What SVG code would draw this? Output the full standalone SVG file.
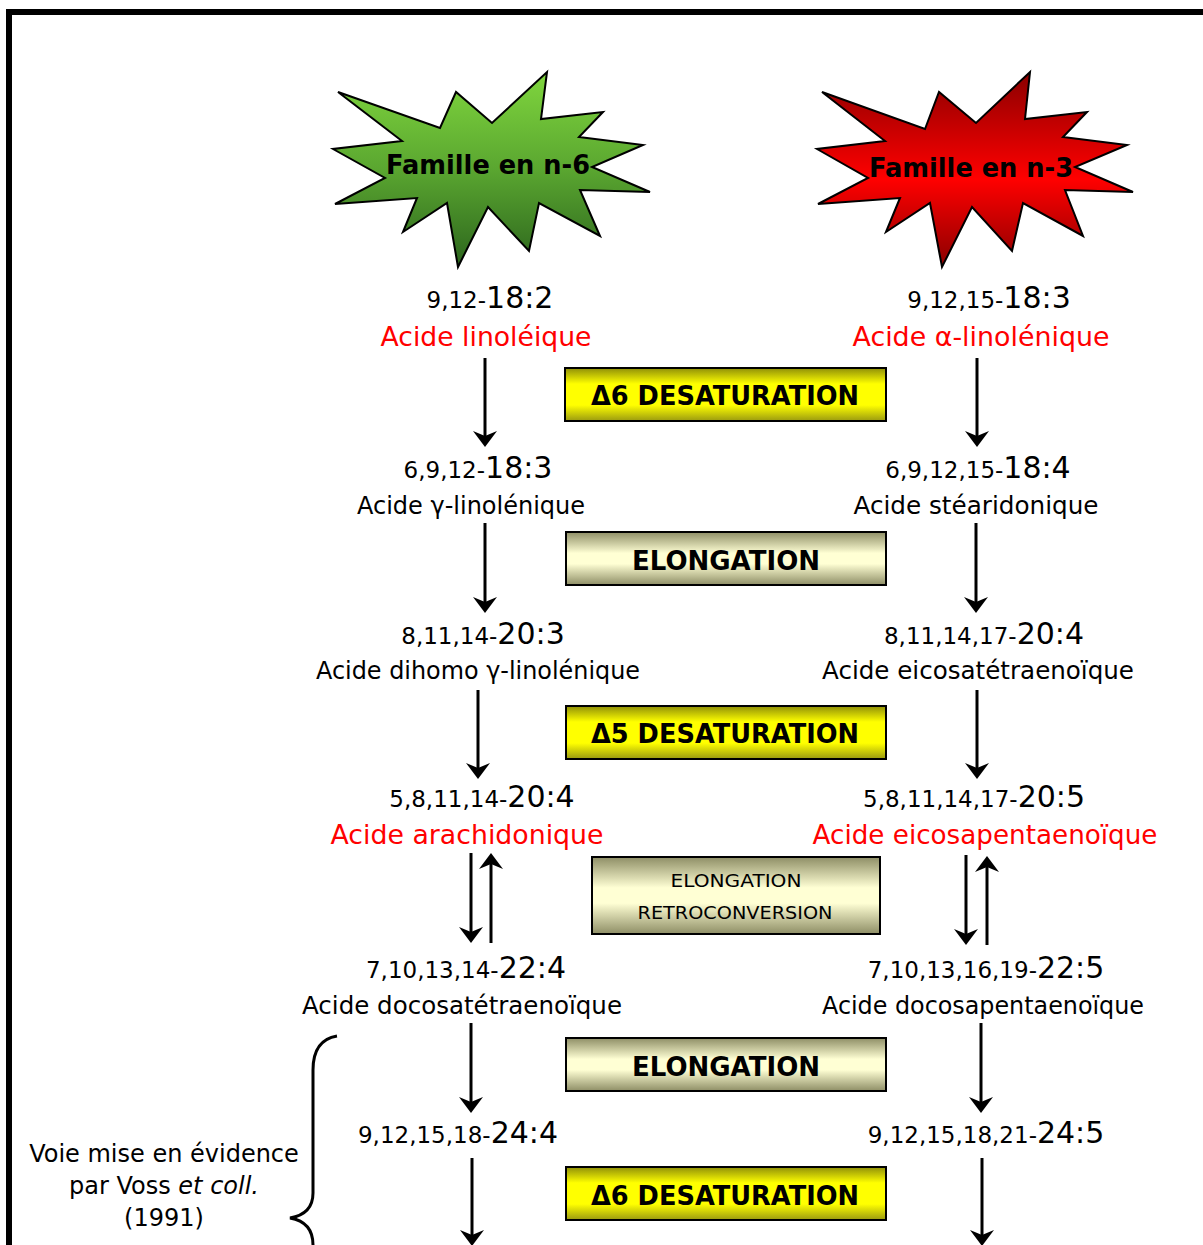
<svg xmlns="http://www.w3.org/2000/svg" width="1203" height="1245" viewBox="0 0 1203 1245">
<style>
text{font-family:"DejaVu Sans","Liberation Sans",sans-serif;fill:#000}
.num{text-anchor:middle}
.s{font-size:23px}
.b{font-size:30px}
.nm{font-size:24px;text-anchor:middle}
.red{font-size:27px;fill:#ff0000;text-anchor:middle}
.bx{font-size:26px;font-weight:bold;text-anchor:middle}
.sm{font-size:18px;text-anchor:middle}
.star{stroke:#000;stroke-width:2;stroke-linejoin:miter}
.box{stroke:#000;stroke-width:2}
.arr{stroke:#000;stroke-width:3;fill:none;marker-end:url(#ah)}
</style>
<defs>
<linearGradient id="gG" x1="0" y1="0" x2="0" y2="1">
<stop offset="0" stop-color="#80d63e"/>
<stop offset="0.5" stop-color="#5aa630"/>
<stop offset="1" stop-color="#2c651d"/>
</linearGradient>
<linearGradient id="gR" x1="0" y1="0" x2="0" y2="1">
<stop offset="0" stop-color="#8a0000"/>
<stop offset="0.55" stop-color="#ff0000"/>
<stop offset="1" stop-color="#8a0000"/>
</linearGradient>
<linearGradient id="gY" x1="0" y1="0" x2="0" y2="1">
<stop offset="0" stop-color="#8f8f08"/>
<stop offset="0.3" stop-color="#ffff00"/>
<stop offset="0.7" stop-color="#ffff00"/>
<stop offset="1" stop-color="#9a9a10"/>
</linearGradient>
<linearGradient id="gE" x1="0" y1="0" x2="0" y2="1">
<stop offset="0" stop-color="#8e8e66"/>
<stop offset="0.4" stop-color="#ffffd4"/>
<stop offset="0.6" stop-color="#ffffd4"/>
<stop offset="1" stop-color="#8e8e66"/>
</linearGradient>
<marker id="ah" markerUnits="userSpaceOnUse" markerWidth="30" markerHeight="30" viewBox="-20 -15 30 30" refX="0" refY="0" orient="auto">
<path d="M5,0 L-11,-12 L-6,0 L-11,12 Z" fill="#000"/>
</marker>
</defs>

<g id="frame">
<path d="M9,1245 V12 H1203" fill="none" stroke="#000" stroke-width="6"/>
</g>

<g id="star-n6">
<polygon class="star" fill="url(#gG)" points="338,92 440,128 456,92 492,123 547,72 541,119 603,112 579,137 643,145 592,167 650,192 580,190 600,236 539,203 529,251 488,207 458,267 447,203 403,232 417,198 335,204 385,178 333,149 402,141"/>
<text x="488" y="174" class="bx" font-size="28" textLength="204" lengthAdjust="spacingAndGlyphs">Famille en n-6</text>
</g>
<g id="star-n3">
<polygon class="star" fill="url(#gR)" points="822,92 925,129 939,92 976,123 1030,72 1025,119 1087,112 1063,137 1127,145 1075,167 1133,192 1065,190 1083,236 1023,203 1012,251 972,207 942,267 930,203 886,232 900,198 818,204 868,178 817,149 885,141"/>
<text x="971" y="177" class="bx" font-size="28" textLength="204" lengthAdjust="spacingAndGlyphs">Famille en n-3</text>
</g>

<g id="n6-18-2">
<text x="490" y="308" class="num"><tspan class="s">9,12-</tspan><tspan class="b">18:2</tspan></text>
<text x="486" y="346" class="red" textLength="211" lengthAdjust="spacingAndGlyphs">Acide linoléique</text>
</g>
<g id="n3-18-3">
<text x="989" y="308" class="num"><tspan class="s">9,12,15-</tspan><tspan class="b">18:3</tspan></text>
<text x="981" y="346" class="red" textLength="257" lengthAdjust="spacingAndGlyphs">Acide α-linolénique</text>
</g>

<g id="n6-18-3">
<text x="478" y="478" class="num"><tspan class="s">6,9,12-</tspan><tspan class="b">18:3</tspan></text>
<text x="471" y="514" class="nm" textLength="228" lengthAdjust="spacingAndGlyphs">Acide γ-linolénique</text>
</g>
<g id="n3-18-4">
<text x="978" y="478" class="num"><tspan class="s">6,9,12,15-</tspan><tspan class="b">18:4</tspan></text>
<text x="976" y="514" class="nm" textLength="245" lengthAdjust="spacingAndGlyphs">Acide stéaridonique</text>
</g>

<g id="n6-20-3">
<text x="483" y="644" class="num"><tspan class="s">8,11,14-</tspan><tspan class="b">20:3</tspan></text>
<text x="478" y="679" class="nm" textLength="324" lengthAdjust="spacingAndGlyphs">Acide dihomo γ-linolénique</text>
</g>
<g id="n3-20-4">
<text x="984" y="644" class="num"><tspan class="s">8,11,14,17-</tspan><tspan class="b">20:4</tspan></text>
<text x="978" y="679" class="nm" textLength="312" lengthAdjust="spacingAndGlyphs">Acide eicosatétraenoïque</text>
</g>

<g id="n6-20-4">
<text x="482" y="807" class="num"><tspan class="s">5,8,11,14-</tspan><tspan class="b">20:4</tspan></text>
<text x="467" y="844" class="red" textLength="273" lengthAdjust="spacingAndGlyphs">Acide arachidonique</text>
</g>
<g id="n3-20-5">
<text x="974" y="807" class="num"><tspan class="s">5,8,11,14,17-</tspan><tspan class="b">20:5</tspan></text>
<text x="985" y="844" class="red" textLength="345" lengthAdjust="spacingAndGlyphs">Acide eicosapentaenoïque</text>
</g>

<g id="n6-22-4">
<text x="466" y="978" class="num"><tspan class="s">7,10,13,14-</tspan><tspan class="b">22:4</tspan></text>
<text x="462" y="1014" class="nm" textLength="320" lengthAdjust="spacingAndGlyphs">Acide docosatétraenoïque</text>
</g>
<g id="n3-22-5">
<text x="986" y="978" class="num"><tspan class="s">7,10,13,16,19-</tspan><tspan class="b">22:5</tspan></text>
<text x="983" y="1014" class="nm" textLength="322" lengthAdjust="spacingAndGlyphs">Acide docosapentaenoïque</text>
</g>

<g id="n6-24-4">
<text x="458" y="1143" class="num"><tspan class="s">9,12,15,18-</tspan><tspan class="b">24:4</tspan></text>
</g>
<g id="n3-24-5">
<text x="986" y="1143" class="num"><tspan class="s">9,12,15,18,21-</tspan><tspan class="b">24:5</tspan></text>
</g>

<g id="box-d6-1">
<rect class="box" x="565" y="368" width="321" height="53" fill="url(#gY)"/>
<text x="725" y="405" class="bx" textLength="268" lengthAdjust="spacingAndGlyphs">Δ6 DESATURATION</text>
</g>
<g id="box-elong-1">
<rect class="box" x="566" y="532" width="320" height="53" fill="url(#gE)"/>
<text x="726" y="570" class="bx" textLength="188" lengthAdjust="spacingAndGlyphs">ELONGATION</text>
</g>
<g id="box-d5">
<rect class="box" x="566" y="706" width="320" height="53" fill="url(#gY)"/>
<text x="725" y="743" class="bx" textLength="268" lengthAdjust="spacingAndGlyphs">Δ5 DESATURATION</text>
</g>
<g id="box-retro">
<rect class="box" x="592" y="857" width="288" height="77" fill="url(#gE)"/>
<text x="736" y="887" class="sm" textLength="131" lengthAdjust="spacingAndGlyphs">ELONGATION</text>
<text x="735" y="919" class="sm" textLength="195" lengthAdjust="spacingAndGlyphs">RETROCONVERSION</text>
</g>
<g id="box-elong-2">
<rect class="box" x="566" y="1038" width="320" height="53" fill="url(#gE)"/>
<text x="726" y="1076" class="bx" textLength="188" lengthAdjust="spacingAndGlyphs">ELONGATION</text>
</g>
<g id="box-d6-2">
<rect class="box" x="566" y="1167" width="320" height="53" fill="url(#gY)"/>
<text x="725" y="1205" class="bx" textLength="268" lengthAdjust="spacingAndGlyphs">Δ6 DESATURATION</text>
</g>

<g id="note">
<text x="164" y="1162" class="nm">Voie mise en évidence</text>
<text x="164" y="1194" class="nm">par Voss <tspan font-style="italic">et coll.</tspan></text>
<text x="164" y="1226" class="nm">(1991)</text>
<path d="M337,1036 Q313,1040 313,1070 L313,1193 Q313,1214 290,1218 Q313,1222 313,1245" fill="none" stroke="#000" stroke-width="3"/>
</g>

<g id="connectors">
<line class="arr" x1="485" y1="358" x2="485" y2="442"/>
<line class="arr" x1="977" y1="358" x2="977" y2="442"/>
<line class="arr" x1="485" y1="523" x2="485" y2="608"/>
<line class="arr" x1="976" y1="523" x2="976" y2="608"/>
<line class="arr" x1="478" y1="690" x2="478" y2="774"/>
<line class="arr" x1="977" y1="690" x2="977" y2="774"/>
<line class="arr" x1="471" y1="853" x2="471" y2="938"/>
<line class="arr" x1="491" y1="943" x2="491" y2="858"/>
<line class="arr" x1="966" y1="855" x2="966" y2="940"/>
<line class="arr" x1="987" y1="945" x2="987" y2="861"/>
<line class="arr" x1="471" y1="1023" x2="471" y2="1108"/>
<line class="arr" x1="981" y1="1023" x2="981" y2="1108"/>
<line class="arr" x1="472" y1="1158" x2="472" y2="1241"/>
<line class="arr" x1="982" y1="1158" x2="982" y2="1241"/>
</g>
</svg>
